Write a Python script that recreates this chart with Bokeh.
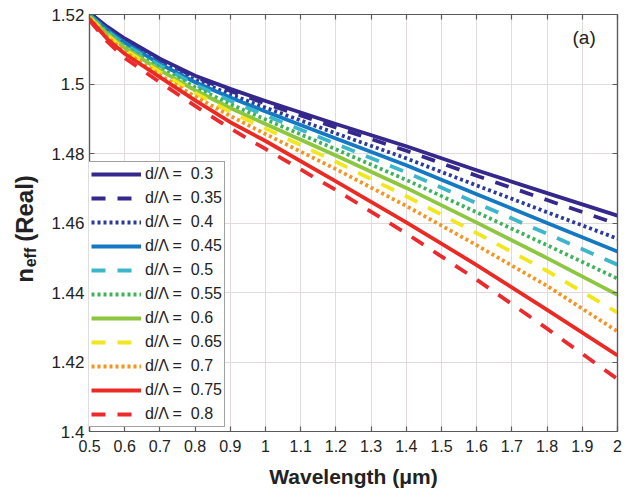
import math
from bokeh.plotting import figure
from bokeh.layouts import row
from bokeh.models import (Range1d, FixedTicker, CustomJSTickFormatter, LinearAxis,
                          Legend, LegendItem, Label)
from bokeh.embed import file_html
from bokeh.resources import INLINE
from bokeh.core.properties import value

# ---------------- data ----------------
wavelength = [0.5, 0.55, 0.6, 0.7, 0.8, 0.9, 1.0, 1.2, 1.4, 1.6, 1.8, 2.0]

ratios = ["0.3", "0.35", "0.4", "0.45", "0.5", "0.55", "0.6", "0.65", "0.7", "0.75", "0.8"]

n_03 = [1.5205, 1.5165, 1.5131, 1.5073, 1.5024, 1.4986, 1.4951, 1.4885, 1.4821, 1.4752, 1.4686, 1.4621]
n_035 = [1.5204, 1.5163, 1.5128, 1.5070, 1.5020, 1.4980, 1.4944, 1.4875, 1.4808, 1.4736, 1.4666, 1.4597]
n_04 = [1.5202, 1.5159, 1.5123, 1.5063, 1.5012, 1.4970, 1.4932, 1.4858, 1.4786, 1.4708, 1.4631, 1.4555]
n_045 = [1.5200, 1.5156, 1.5119, 1.5058, 1.5005, 1.4961, 1.4921, 1.4843, 1.4766, 1.4683, 1.4600, 1.4518]
n_05 = [1.5198, 1.5152, 1.5114, 1.5053, 1.4998, 1.4952, 1.4910, 1.4828, 1.4746, 1.4657, 1.4569, 1.4480]
n_055 = [1.5197, 1.5149, 1.5109, 1.5047, 1.4991, 1.4942, 1.4898, 1.4812, 1.4724, 1.4631, 1.4536, 1.4440]
n_06 = [1.5194, 1.5145, 1.5104, 1.5040, 1.4982, 1.4931, 1.4885, 1.4794, 1.4701, 1.4601, 1.4499, 1.4393]
n_065 = [1.5192, 1.5141, 1.5099, 1.5034, 1.4974, 1.4920, 1.4872, 1.4776, 1.4677, 1.4571, 1.4462, 1.4342]
n_07 = [1.5190, 1.5136, 1.5093, 1.5026, 1.4964, 1.4908, 1.4856, 1.4755, 1.4649, 1.4536, 1.4419, 1.4288]
n_075 = [1.5187, 1.5130, 1.5087, 1.5020, 1.4953, 1.4890, 1.4836, 1.4720, 1.4602, 1.4479, 1.4350, 1.4219]
n_08 = [1.5183, 1.5123, 1.5075, 1.5005, 1.4937, 1.4872, 1.4813, 1.4695, 1.4570, 1.4437, 1.4296, 1.4151]

series = [n_03, n_035, n_04, n_045, n_05, n_055, n_06, n_065, n_07, n_075, n_08]

x_ticks = [0.5, 0.6, 0.7, 0.8, 0.9, 1.0, 1.1, 1.2, 1.3, 1.4, 1.5, 1.6, 1.7, 1.8, 1.9, 2.0]
y_ticks = [1.4, 1.42, 1.44, 1.46, 1.48, 1.5, 1.52]

ytitle_parts = ["n", "eff", "(Real)"]

# ---------------- styles ----------------
colors = ["#35278C", "#35278C", "#2B3A9E", "#1479C2", "#3BB6CA", "#3DB35A",
          "#8DC63F", "#F2E61C", "#F7941D", "#EC2A24", "#EC2A2E"]
dashes = ["solid", "14 12", "3 3", "solid", "14 12", "3 3",
          "solid", "14 12", "3 3", "solid", "14 12"]

FONT = "Liberation Sans"
AX = "#5a5a5a"
TXT = "#222222"
H = 490
LW = 48  # width of the strip that carries the y-axis title

# ---------------- y-axis title strip ----------------
lab = figure(title=None, frame_width=LW, frame_height=H, output_backend="svg",
             toolbar_location=None,
             x_range=Range1d(0, LW), y_range=Range1d(0, H),
             x_axis_type=None, y_axis_type=None,
             min_border_left=0, min_border_right=0, min_border_top=0, min_border_bottom=0,
             background_fill_color="white", border_fill_color="white")
lab.outline_line_color = None
lab.grid.visible = False
# centres of the three pieces (pixel coordinates of the strip, y upward)
lab.text(x=[24], y=[H - 261], text=[ytitle_parts[0]], angle=math.pi / 2,
         text_font=value(FONT), text_font_style="bold", text_font_size="24px",
         text_color=TXT, text_align="center", text_baseline="middle")
lab.text(x=[30], y=[H - 243], text=[ytitle_parts[1]], angle=math.pi / 2,
         text_font=value(FONT), text_font_style="bold", text_font_size="16px",
         text_color=TXT, text_align="center", text_baseline="middle")
lab.text(x=[24], y=[H - 194], text=[ytitle_parts[2]], angle=math.pi / 2,
         text_font=value(FONT), text_font_style="bold", text_font_size="24px",
         text_color=TXT, text_align="center", text_baseline="middle")

# ---------------- main plot ----------------
p = figure(width=624 - LW, height=H, output_backend="svg", toolbar_location=None,
           x_range=Range1d(0.5, 2.0), y_range=Range1d(1.4, 1.52),
           min_border_left=89 - LW, min_border_right=7, min_border_top=14, min_border_bottom=56,
           background_fill_color="white", border_fill_color="white")
p.outline_line_color = AX
p.outline_line_width = 1.2

fmt = CustomJSTickFormatter(code="return (Math.round(tick*100)/100).toString();")
blank = CustomJSTickFormatter(code="return '';")

for ax, ticks in ((p.xaxis[0], x_ticks), (p.yaxis[0], y_ticks)):
    ax.ticker = FixedTicker(ticks=ticks)
    ax.formatter = fmt
    ax.major_tick_in = 5
    ax.major_tick_out = 0
    ax.minor_tick_in = 0
    ax.minor_tick_out = 0
    ax.axis_line_color = AX
    ax.axis_line_width = 1.2
    ax.major_tick_line_color = AX
    ax.major_tick_line_width = 1.2
    ax.major_label_text_font = FONT
    ax.major_label_text_color = TXT

p.xaxis.major_label_text_font_size = "16px"
p.yaxis.major_label_text_font_size = "17px"
p.xaxis.major_label_standoff = 8
p.yaxis.major_label_standoff = 5
p.xaxis.axis_label = "Wavelength (μm)"
p.xaxis.axis_label_text_font = FONT
p.xaxis.axis_label_text_font_style = "bold"
p.xaxis.axis_label_text_font_size = "21px"
p.xaxis.axis_label_text_color = TXT
p.xaxis.axis_label_standoff = 10

for loc, ticks in (("above", x_ticks), ("right", y_ticks)):
    a = LinearAxis(ticker=FixedTicker(ticks=ticks), formatter=blank,
                   major_label_text_font_size="0px", major_label_standoff=0,
                   major_tick_in=5, major_tick_out=0, minor_tick_in=0, minor_tick_out=0,
                   axis_line_color=AX, axis_line_width=1.2,
                   major_tick_line_color=AX, major_tick_line_width=1.2)
    p.add_layout(a, loc)

p.xgrid.ticker = FixedTicker(ticks=x_ticks)
p.ygrid.ticker = FixedTicker(ticks=y_ticks)
p.grid.grid_line_color = "#e0dada"
p.grid.grid_line_width = 1

items = []
for labtxt, ys, c, d in zip(ratios, series, colors, dashes):
    r = p.line(wavelength, ys, line_color=c, line_width=3.8, line_dash=d,
               line_cap="butt", line_join="round")
    items.append(LegendItem(label="d/Λ = \u00a0" + labtxt, renderers=[r]))

legend = Legend(items=items, location=(-1, 4), orientation="vertical",
                label_text_font=FONT, label_text_font_size="16px",
                label_text_color=TXT,
                glyph_width=50, glyph_height=20, label_height=20, label_standoff=4,
                spacing=4, padding=2, margin=0,
                border_line_color="#444444", border_line_width=1.2,
                background_fill_color="white", background_fill_alpha=1.0)
p.add_layout(legend)

p.add_layout(Label(x=483, y=394, x_units="screen", y_units="screen", text="(a)",
                   text_font=FONT, text_font_size="19px", text_color=TXT,
                   text_align="left", text_baseline="alphabetic"))

layout = row(lab, p)
open("out.html", "w").write(file_html(layout, INLINE))
